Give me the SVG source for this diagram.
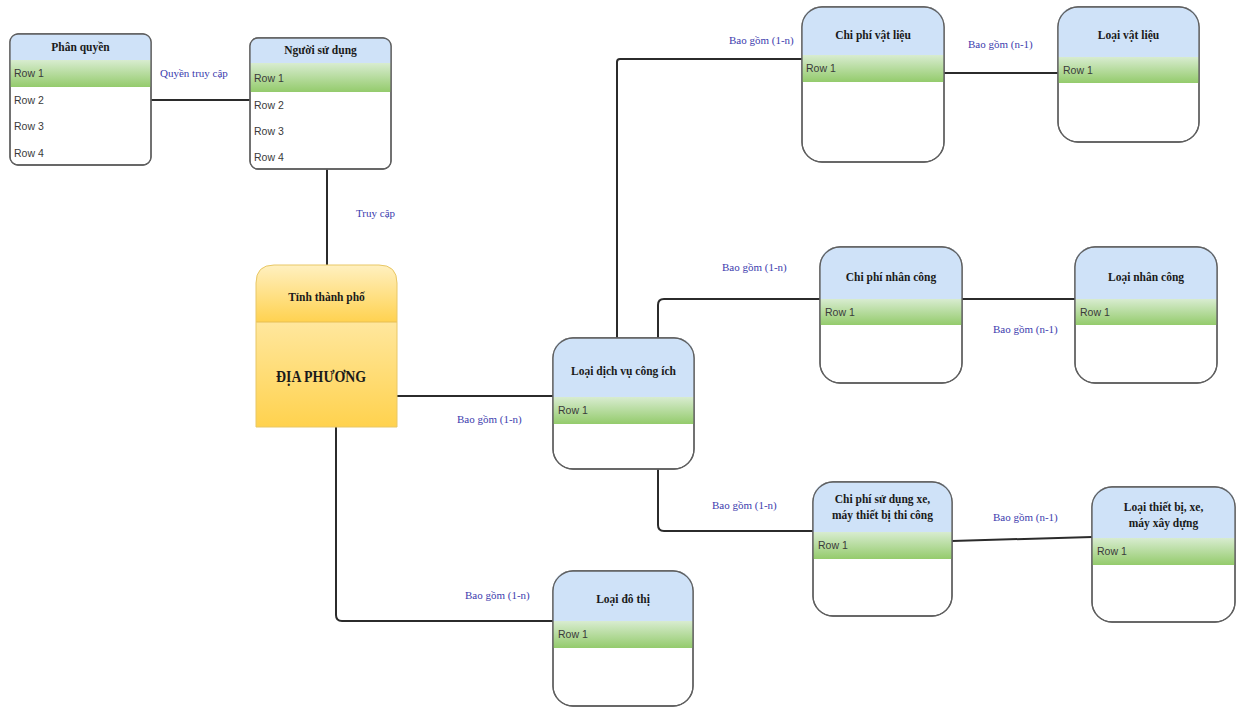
<svg xmlns="http://www.w3.org/2000/svg" width="1240" height="707" viewBox="0 0 1240 707">
<style>
.bg{fill:#ffffff}
.box{fill:#ffffff;stroke:#5f5f5f;stroke-width:1.3}
.outl{fill:none;stroke:#5f5f5f;stroke-width:1.3}
.hdr{fill:#cfe2f8}
.row1{fill:url(#green)}
.title{font-family:"Liberation Serif","Times New Roman",serif;font-weight:bold;font-size:11.5px;fill:#1a1a1a;text-anchor:middle}
.row{font-family:"Liberation Sans",Arial,sans-serif;font-size:10.5px;fill:#3a3a3a}
.lbl{font-family:"Liberation Serif","Times New Roman",serif;font-size:11px;fill:#3c3cae}
.conn{fill:none;stroke:#2b2b2b;stroke-width:2}
</style>
<defs>
<linearGradient id="green" x1="0" y1="0" x2="0" y2="1">
<stop offset="0" stop-color="#d8ecd0"/>
<stop offset="1" stop-color="#94cb6c"/>
</linearGradient>
<linearGradient id="yhdr" x1="0" y1="0" x2="0" y2="1">
<stop offset="0" stop-color="#fff0c0"/>
<stop offset="1" stop-color="#ffd250"/>
</linearGradient>
<linearGradient id="ybody" x1="0" y1="0" x2="0" y2="1">
<stop offset="0" stop-color="#fff2c8"/>
<stop offset="1" stop-color="#ffd24e"/>
</linearGradient>
</defs>
<rect class="bg" x="0" y="0" width="1240" height="707"/>

<g id="connectors">
<path class="conn" d="M151,100 H250"/>
<path class="conn" d="M327,169 V265"/>
<path class="conn" d="M397,396 H553"/>
<path class="conn" d="M336,427 V615 Q336,621 342,621 H553"/>
<path class="conn" d="M617,338 V62 Q617,59 620,59 H802"/>
<path class="conn" d="M944,73 H1058"/>
<path class="conn" d="M658,338 V305 Q658,299 664,299 H820"/>
<path class="conn" d="M962,299 H1075"/>
<path class="conn" d="M658,469 V525 Q658,531 664,531 H813"/>
<path class="conn" d="M952,541 L1092,537"/>
</g>

<g id="labels">
<text class="lbl" x="160" y="77">Quyền truy cập</text>
<text class="lbl" x="356" y="217">Truy cập</text>
<text class="lbl" x="457" y="423">Bao gồm (1-n)</text>
<text class="lbl" x="465" y="599">Bao gồm (1-n)</text>
<text class="lbl" x="729" y="44">Bao gồm (1-n)</text>
<text class="lbl" x="968" y="48">Bao gồm (n-1)</text>
<text class="lbl" x="722" y="271">Bao gồm (1-n)</text>
<text class="lbl" x="993" y="333">Bao gồm (n-1)</text>
<text class="lbl" x="712" y="509">Bao gồm (1-n)</text>
<text class="lbl" x="993" y="521">Bao gồm (n-1)</text>
</g>

<g id="phan-quyen">
<rect class="box" x="10" y="34" width="141" height="131" rx="8"/>
<path class="hdr" d="M10,60 V42 Q10,34 18,34 H143 Q151,34 151,42 V60 Z"/>
<rect class="row1" x="10" y="60" width="141" height="27"/>
<rect class="outl" x="10" y="34" width="141" height="131" rx="8"/>
<text class="title" x="80.5" y="51">Phân quyền</text>
<text class="row" x="14" y="77">Row 1</text>
<text class="row" x="14" y="104">Row 2</text>
<text class="row" x="14" y="130">Row 3</text>
<text class="row" x="14" y="157">Row 4</text>
</g>

<g id="nguoi-su-dung">
<rect class="box" x="250" y="38" width="141" height="131" rx="8"/>
<path class="hdr" d="M250,63 V46 Q250,38 258,38 H383 Q391,38 391,46 V63 Z"/>
<rect class="row1" x="250" y="63" width="141" height="29"/>
<rect class="outl" x="250" y="38" width="141" height="131" rx="8"/>
<text class="title" x="320.5" y="54">Người sử dụng</text>
<text class="row" x="254" y="82">Row 1</text>
<text class="row" x="254" y="109">Row 2</text>
<text class="row" x="254" y="135">Row 3</text>
<text class="row" x="254" y="161">Row 4</text>
</g>

<g id="tinh-thanh-pho">
<path d="M256,427 V283 Q256,265 274,265 H379 Q397,265 397,283 V427 Z" fill="url(#ybody)"/>
<path d="M256,322 V283 Q256,265 274,265 H379 Q397,265 397,283 V322 Z" fill="url(#yhdr)"/>
<line x1="256" y1="322" x2="397" y2="322" stroke="#e6be55" stroke-width="1"/>
<path d="M256,427 V283 Q256,265 274,265 H379 Q397,265 397,283 V427 Z" fill="none" stroke="#e8c766" stroke-width="1"/>
<text class="title" x="326.5" y="301">Tỉnh thành phố</text>
<text x="321" y="382" font-family="'Liberation Serif','Times New Roman',serif" font-weight="bold" font-size="17" fill="#1a1a1a" text-anchor="middle" textLength="90" lengthAdjust="spacingAndGlyphs">ĐỊA PHƯƠNG</text>
</g>

<g id="loai-dich-vu-cong-ich">
<rect class="box" x="553" y="338" width="141" height="131" rx="20"/>
<path class="hdr" d="M553,397 V358 Q553,338 573,338 H674 Q694,338 694,358 V397 Z"/>
<rect class="row1" x="553" y="397" width="141" height="27"/>
<rect class="outl" x="553" y="338" width="141" height="131" rx="20"/>
<text class="title" x="623.5" y="375">Loại dịch vụ công ích</text>
<text class="row" x="558" y="414">Row 1</text>
</g>

<g id="loai-do-thi">
<rect class="box" x="553" y="571" width="140" height="135" rx="20"/>
<path class="hdr" d="M553,621 V591 Q553,571 573,571 H673 Q693,571 693,591 V621 Z"/>
<rect class="row1" x="553" y="621" width="140" height="27"/>
<rect class="outl" x="553" y="571" width="140" height="135" rx="20"/>
<text class="title" x="623" y="603">Loại đô thị</text>
<text class="row" x="558" y="638">Row 1</text>
</g>

<g id="chi-phi-vat-lieu">
<rect class="box" x="802" y="7" width="142" height="155" rx="20"/>
<path class="hdr" d="M802,55 V27 Q802,7 822,7 H924 Q944,7 944,27 V55 Z"/>
<rect class="row1" x="802" y="55" width="142" height="27"/>
<rect class="outl" x="802" y="7" width="142" height="155" rx="20"/>
<text class="title" x="873" y="39">Chi phí vật liệu</text>
<text class="row" x="806" y="72">Row 1</text>
</g>

<g id="loai-vat-lieu">
<rect class="box" x="1058" y="7" width="141" height="135" rx="20"/>
<path class="hdr" d="M1058,57 V27 Q1058,7 1078,7 H1179 Q1199,7 1199,27 V57 Z"/>
<rect class="row1" x="1058" y="57" width="141" height="26"/>
<rect class="outl" x="1058" y="7" width="141" height="135" rx="20"/>
<text class="title" x="1128.5" y="39">Loại vật liệu</text>
<text class="row" x="1063" y="74">Row 1</text>
</g>

<g id="chi-phi-nhan-cong">
<rect class="box" x="820" y="247" width="142" height="136" rx="20"/>
<path class="hdr" d="M820,299 V267 Q820,247 840,247 H942 Q962,247 962,267 V299 Z"/>
<rect class="row1" x="820" y="299" width="142" height="26"/>
<rect class="outl" x="820" y="247" width="142" height="136" rx="20"/>
<text class="title" x="891" y="281">Chi phí nhân công</text>
<text class="row" x="825" y="316">Row 1</text>
</g>

<g id="loai-nhan-cong">
<rect class="box" x="1075" y="247" width="142" height="136" rx="20"/>
<path class="hdr" d="M1075,299 V267 Q1075,247 1095,247 H1197 Q1217,247 1217,267 V299 Z"/>
<rect class="row1" x="1075" y="299" width="142" height="26"/>
<rect class="outl" x="1075" y="247" width="142" height="136" rx="20"/>
<text class="title" x="1146" y="281">Loại nhân công</text>
<text class="row" x="1080" y="316">Row 1</text>
</g>

<g id="chi-phi-su-dung-xe">
<rect class="box" x="813" y="482" width="139" height="134" rx="20"/>
<path class="hdr" d="M813,532 V502 Q813,482 833,482 H932 Q952,482 952,502 V532 Z"/>
<rect class="row1" x="813" y="532" width="139" height="27"/>
<rect class="outl" x="813" y="482" width="139" height="134" rx="20"/>
<text class="title" x="882.5" y="503">Chi phí sử dụng xe,</text>
<text class="title" x="882.5" y="519">máy thiết bị thi công</text>
<text class="row" x="818" y="549">Row 1</text>
</g>

<g id="loai-thiet-bi">
<rect class="box" x="1092" y="487" width="143" height="135" rx="20"/>
<path class="hdr" d="M1092,538 V507 Q1092,487 1112,487 H1215 Q1235,487 1235,507 V538 Z"/>
<rect class="row1" x="1092" y="538" width="143" height="27"/>
<rect class="outl" x="1092" y="487" width="143" height="135" rx="20"/>
<text class="title" x="1163.5" y="511">Loại thiết bị, xe,</text>
<text class="title" x="1163.5" y="527">máy xây dựng</text>
<text class="row" x="1097" y="555">Row 1</text>
</g>
</svg>
